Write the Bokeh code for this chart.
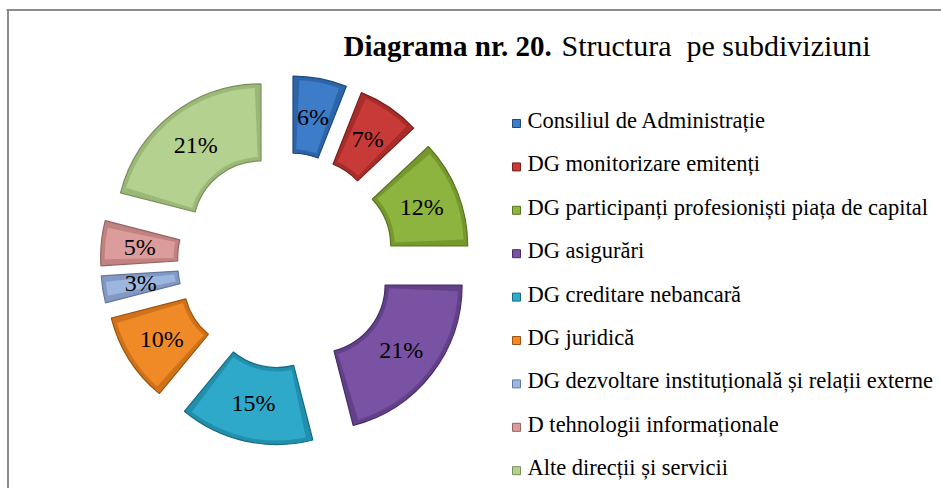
import numpy as np
from bokeh.plotting import figure
from bokeh.models import Range1d
from bokeh.core.properties import value
from bokeh.embed import file_html
from bokeh.resources import INLINE

# ---- data ----
categories = [
    "Consiliul de Administrație",
    "DG monitorizare emitenți",
    "DG participanți profesioniști piața de capital",
    "DG asigurări",
    "DG creditare nebancară",
    "DG juridică",
    "DG dezvoltare instituțională și relații externe",
    "D tehnologii informaționale",
    "Alte direcții și servicii",
]
shares = [6, 7, 12, 21, 15, 10, 3, 5, 21]
colors = ["#3C7CC8", "#C83A38", "#8DB43E", "#7A52A4", "#2FA9C9",
          "#F08A26", "#9DB6E0", "#DC9C9B", "#B5D190"]
bands = ["#2E64A8", "#A82C2A", "#76992E", "#62408A", "#2290AC",
         "#D0721A", "#8299C4", "#C08382", "#9BB878"]
edges = ["#1E4A80", "#7A1E1C", "#587420", "#452C66", "#166C84",
         "#9C5410", "#6478A0", "#946262", "#789058"]
title_bold = "Diagrama nr. 20."
title_rest = "Structura\u00a0 pe subdiviziuni"

W, H = 941, 488
FONT = "Liberation Serif"

p = figure(width=W, height=H, output_backend="svg", toolbar_location=None,
           x_range=Range1d(0, W), y_range=Range1d(0, H), min_border=0)
p.axis.visible = False
p.grid.visible = False
p.outline_line_color = None
p.background_fill_color = "white"
p.border_fill_color = "white"

# frame lines (left/top visible in reference)
p.segment(x0=[7.5, 6], y0=[0, H - 9.5], x1=[7.5, W], y1=[H - 8.5, H - 9.5],
          line_color="#8C8C8C", line_width=2)

# ---- exploded donut ----
cx, cy = 285, H - 260
r_in, r_out = 68, 145
explode = 40

vals = np.array(shares, dtype=float)
frac = vals / vals.sum()
cum = np.concatenate([[0], np.cumsum(frac)])
theta1 = cum[:-1] * 2 * np.pi   # clockwise from top
theta2 = cum[1:] * 2 * np.pi
mid = (theta1 + theta2) / 2
ox = cx + explode * np.sin(mid)
oy = cy + explode * np.cos(mid)
start = np.pi / 2 - theta2
end = np.pi / 2 - theta1

p.annular_wedge(x=ox, y=oy, inner_radius=r_in, outer_radius=r_out,
                start_angle=start, end_angle=end, direction="anticlock",
                inner_radius_units="screen", outer_radius_units="screen",
                fill_color=bands, line_color=edges, line_width=1.2)
# inner face (bevel imitation)
pad = 4.0
dang = np.maximum(pad / (r_in + pad), pad / (r_out - pad)) * 0.8
p.annular_wedge(x=ox, y=oy, inner_radius=r_in + pad, outer_radius=r_out - pad,
                start_angle=start + dang, end_angle=end - dang, direction="anticlock",
                inner_radius_units="screen", outer_radius_units="screen",
                fill_color=colors, line_color=None)

rm = (r_in + r_out) / 2
lx = ox + rm * np.sin(mid)
ly = oy + rm * np.cos(mid)
p.text(x=lx, y=ly, text=[f"{v}%" for v in shares], text_align="center",
       text_baseline="middle", text_font=value(FONT), text_font_size="24px",
       text_color="black")

# ---- title ----
p.text(x=[343], y=[H - 45], text=[title_bold], text_font=value(FONT),
       text_font_style="bold", text_font_size="29px", text_baseline="alphabetic",
       text_color="black")
p.text(x=[561], y=[H - 45], text=[title_rest], text_font=value(FONT),
       text_font_size="30px", text_baseline="alphabetic", text_color="black")

# ---- legend ----
n = len(categories)
idx = np.arange(n)
row_y = H - (123 + idx * 43.4)
p.rect(x=[516] * n, y=row_y, width=8, height=8, width_units="screen",
       height_units="screen", fill_color=colors, line_color=edges, line_width=1)
p.text(x=[527] * n, y=row_y + 3, text=categories, text_font=value(FONT),
       text_font_size="22.5px", text_baseline="alphabetic", text_color="black")

open("out.html", "w").write(file_html(p, INLINE))
